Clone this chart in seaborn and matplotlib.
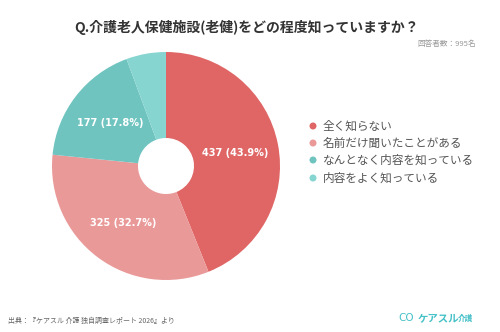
import matplotlib
matplotlib.use("Agg")
import matplotlib.pyplot as plt
import seaborn as sns
import numpy as np
from matplotlib.patches import Ellipse

sns.set_theme(style="white")
plt.rcParams['font.family'] = ['Noto Sans CJK JP', 'DejaVu Sans']

categories = ["全く知らない", "名前だけ聞いたことがある", "なんとなく内容を知っている", "内容をよく知っている"]
counts = [437, 325, 177, 56]
percents = [43.9, 32.7, 17.8, 5.6]
colors = ["#E06666", "#EA9999", "#6FC4C0", "#86D5D1"]
title = "Q.介護老人保健施設(老健)をどの程度知っていますか？"
respondents = "回答者数：995名"
source = "出典：『ケアスル 介護 独自調査レポート 2026』より"

W, H = 500, 332
fig = plt.figure(figsize=(W / 100, H / 100), dpi=100)
fig.patch.set_facecolor("white")

cx, cy, r = 166, 166, 114
ax = fig.add_axes([(cx - r) / W, (H - cy - r) / H, 2 * r / W, 2 * r / H])

wedges, _ = ax.pie(counts, colors=colors, startangle=90, counterclock=False,
                   wedgeprops=dict(width=1 - 28 / 114, linewidth=0))
ax.set_aspect("equal")
ax.set_xlim(-1, 1)
ax.set_ylim(-1, 1)
ax.axis("off")

# value labels (skip the smallest slice)
total = sum(counts)
start = 90.0
for c, p in zip(counts, percents):
    ang = c / total * 360
    mid = np.deg2rad(start - ang / 2)
    start -= ang
    if p < 10:
        continue
    rr = 0.62
    ax.text(rr * np.cos(mid), rr * np.sin(mid), f"{c} ({p}%)", color="white",
            fontsize=7, fontweight="bold", ha="center", va="center",
            family=["DejaVu Sans"])

fig.text(247 / W, 1 - 27 / H, title, ha="center", va="center", fontsize=10,
         fontweight="bold", color="#333333")
fig.text(476 / W, 1 - 44 / H, respondents, ha="right", va="center", fontsize=5.5,
         color="#999999")

# legend
ys = [126, 143, 160, 178]
for cat, col, y in zip(categories, colors, ys):
    fig.patches.append(Ellipse((313 / W, 1 - y / H), 7 / W, 7 / H,
                               transform=fig.transFigure, facecolor=col,
                               edgecolor="none"))
    fig.text(323 / W, 1 - y / H, cat, ha="left", va="center", fontsize=8.4,
             color="#555555")

fig.text(8 / W, 1 - 321 / H, source, ha="left", va="center", fontsize=5,
         color="#666666")
fig.text(398 / W, 1 - 318 / H, "CO", ha="left", va="center", fontsize=7.5,
         color="#45C1C8", family=["DejaVu Sans"])
fig.text(418 / W, 1 - 318 / H, "ケアスル", ha="left", va="center", fontsize=7.5,
         fontweight="bold", color="#45C1C8")
fig.text(458 / W, 1 - 318 / H, "介護", ha="left", va="center", fontsize=5.5,
         fontweight="bold", color="#45C1C8")

fig.savefig("out.png", dpi=100, facecolor="white")
